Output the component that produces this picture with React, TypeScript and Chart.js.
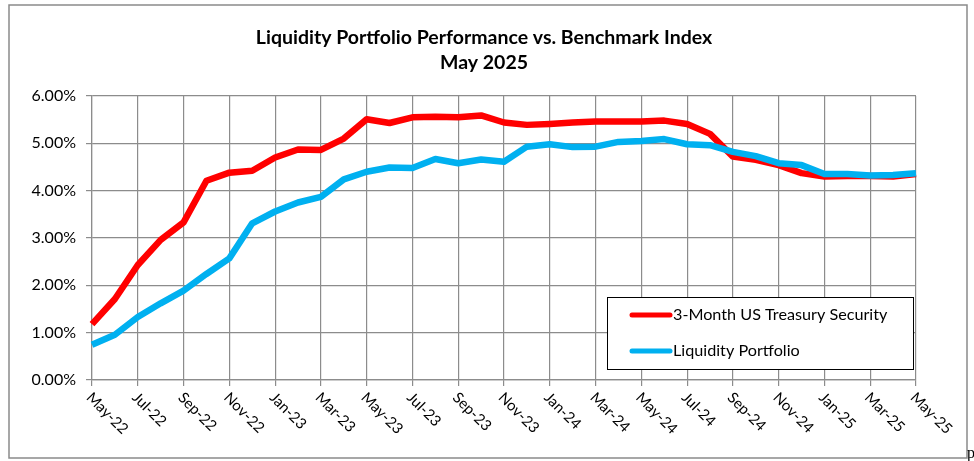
import React, { useEffect, useRef } from "react";
import { Chart, registerables } from "chart.js";

Chart.register(...registerables);

const months: string[] = [
  "May-22", "Jun-22", "Jul-22", "Aug-22", "Sep-22", "Oct-22", "Nov-22", "Dec-22",
  "Jan-23", "Feb-23", "Mar-23", "Apr-23", "May-23", "Jun-23", "Jul-23", "Aug-23",
  "Sep-23", "Oct-23", "Nov-23", "Dec-23", "Jan-24", "Feb-24", "Mar-24", "Apr-24",
  "May-24", "Jun-24", "Jul-24", "Aug-24", "Sep-24", "Oct-24", "Nov-24", "Dec-24",
  "Jan-25", "Feb-25", "Mar-25", "Apr-25", "May-25",
];

const treasury: number[] = [
  1.18, 1.71, 2.43, 2.96, 3.33, 4.21, 4.38, 4.42, 4.7, 4.87,
  4.86, 5.1, 5.51, 5.43, 5.55, 5.56, 5.55, 5.59, 5.44,
  5.39, 5.41, 5.44, 5.46, 5.46, 5.46, 5.48, 5.41, 5.2,
  4.72, 4.65, 4.54, 4.37, 4.3, 4.31, 4.31, 4.3, 4.35,
];

const liquidity: number[] = [
  0.745, 0.955, 1.33, 1.62, 1.89, 2.24, 2.57, 3.31, 3.56, 3.75,
  3.87, 4.24, 4.4, 4.49, 4.48, 4.67, 4.58, 4.66, 4.61,
  4.93, 4.98, 4.92, 4.93, 5.03, 5.05, 5.09, 4.98, 4.96,
  4.82, 4.73, 4.58, 4.54, 4.35, 4.35, 4.32, 4.33, 4.37,
];

const seriesNames: string[] = ["3-Month US Treasury Security", "Liquidity Portfolio"];
const titleLines: string[] = ["Liquidity Portfolio Performance vs. Benchmark Index", "May 2025"];

const FONT = "Lato, 'Open Sans', sans-serif";
const GRID = "#8c8c8c";

const customPlugin = {
  id: "customDecor",
  afterDraw(chart: any) {
    const ctx = chart.ctx as CanvasRenderingContext2D;
    const area = chart.chartArea;
    const xs = chart.scales.x;
    ctx.save();

    // outer chart border
    ctx.strokeStyle = "#8a8a8a";
    ctx.lineWidth = 1.5;
    ctx.strokeRect(9, 5, 958, 453);

    // title
    ctx.fillStyle = "#000";
    ctx.textAlign = "center";
    ctx.textBaseline = "middle";
    ctx.font = `bold 19.5px ${FONT}`;
    ctx.fillText(titleLines[0], 484, 38);
    ctx.fillText(titleLines[1], 484, 63);

    // x labels, rotated 45deg clockwise, starting at the tick
    ctx.font = `15px ${FONT}`;
    ctx.textAlign = "left";
    ctx.textBaseline = "middle";
    for (let i = 0; i < months.length; i += 2) {
      const x = xs.getPixelForValue(i);
      ctx.save();
      ctx.translate(x - 3, area.bottom + 15);
      ctx.rotate(Math.PI / 4);
      ctx.fillText(months[i], 0, 0);
      ctx.restore();
    }

    // legend
    const lx = 607, ly = 297, lw = 306, lh = 72;
    ctx.fillStyle = "#fff";
    ctx.fillRect(lx, ly, lw, lh);
    ctx.strokeStyle = "#000";
    ctx.lineWidth = 1;
    ctx.strokeRect(lx + 0.5, ly + 0.5, lw, lh);
    const rows = [315, 351];
    chart.data.datasets.forEach((ds: any, k: number) => {
      const y = rows[k];
      ctx.strokeStyle = ds.borderColor;
      ctx.lineWidth = 5;
      ctx.lineCap = "round";
      ctx.beginPath();
      ctx.moveTo(632, y);
      ctx.lineTo(670, y);
      ctx.stroke();
      ctx.fillStyle = "#000";
      ctx.font = `16.2px ${FONT}`;
      ctx.textAlign = "left";
      ctx.textBaseline = "middle";
      ctx.fillText(ds.label, 673, y);
    });

    ctx.restore();
  },
};

export default function App() {
  const canvasRef = useRef<HTMLCanvasElement | null>(null);

  useEffect(() => {
    if (!canvasRef.current) return;
    const chart = new Chart(canvasRef.current, {
      type: "line",
      data: {
        labels: months,
        datasets: [
          {
            label: seriesNames[0],
            data: treasury,
            borderColor: "#FF0000",
            backgroundColor: "#FF0000",
            borderWidth: 6.5,
            pointRadius: 0,
            tension: 0,
            borderJoinStyle: "round",
            order: 1,
          },
          {
            label: seriesNames[1],
            data: liquidity,
            borderColor: "#00B0F0",
            backgroundColor: "#00B0F0",
            borderWidth: 6.5,
            pointRadius: 0,
            tension: 0,
            borderJoinStyle: "round",
            order: 0,
          },
        ],
      },
      options: {
        responsive: false,
        animation: false,
        layout: { padding: { left: 0, right: 58, top: 96, bottom: 0 } },
        plugins: {
          legend: { display: false },
          title: { display: false },
          tooltip: { enabled: false },
        },
        scales: {
          x: {
            type: "category",
            offset: false,
            ticks: { display: false, autoSkip: false },
            grid: {
              color: (c: any) => (c.index % 2 === 0 ? GRID : "rgba(0,0,0,0)"),
              tickColor: (c: any) => (c.index % 2 === 0 ? GRID : "rgba(0,0,0,0)"),
              lineWidth: 1.2,
              tickLength: 6,
              drawTicks: true,
            },
            border: { display: true, color: GRID, width: 1.2 },
            afterFit: (s: any) => {
              s.height = 81;
            },
          },
          y: {
            min: 0,
            max: 6,
            ticks: {
              stepSize: 1,
              padding: 10,
              color: "#000",
              font: { family: FONT, size: 16 },
              callback: (v: any) => Number(v).toFixed(2) + "%",
            },
            grid: { color: GRID, lineWidth: 1.2, tickLength: 6, tickColor: GRID },
            border: { display: true, color: GRID, width: 1.2 },
            afterFit: (s: any) => {
              s.width = 92;
            },
          },
        },
      },
      plugins: [customPlugin],
    });
    return () => chart.destroy();
  }, []);

  return (
    <div style={{ position: "absolute", left: 0, top: 0, width: 974, height: 461, background: "#fff" }}>
      <canvas ref={canvasRef} width={974} height={461} style={{ width: 974, height: 461, display: "block" }} />
      <span
        style={{
          position: "absolute",
          left: 967,
          top: 445,
          fontFamily: "'Liberation Serif', serif",
          fontSize: 16,
          lineHeight: "16px",
          color: "#000",
        }}
      >
        p
      </span>
    </div>
  );
}
